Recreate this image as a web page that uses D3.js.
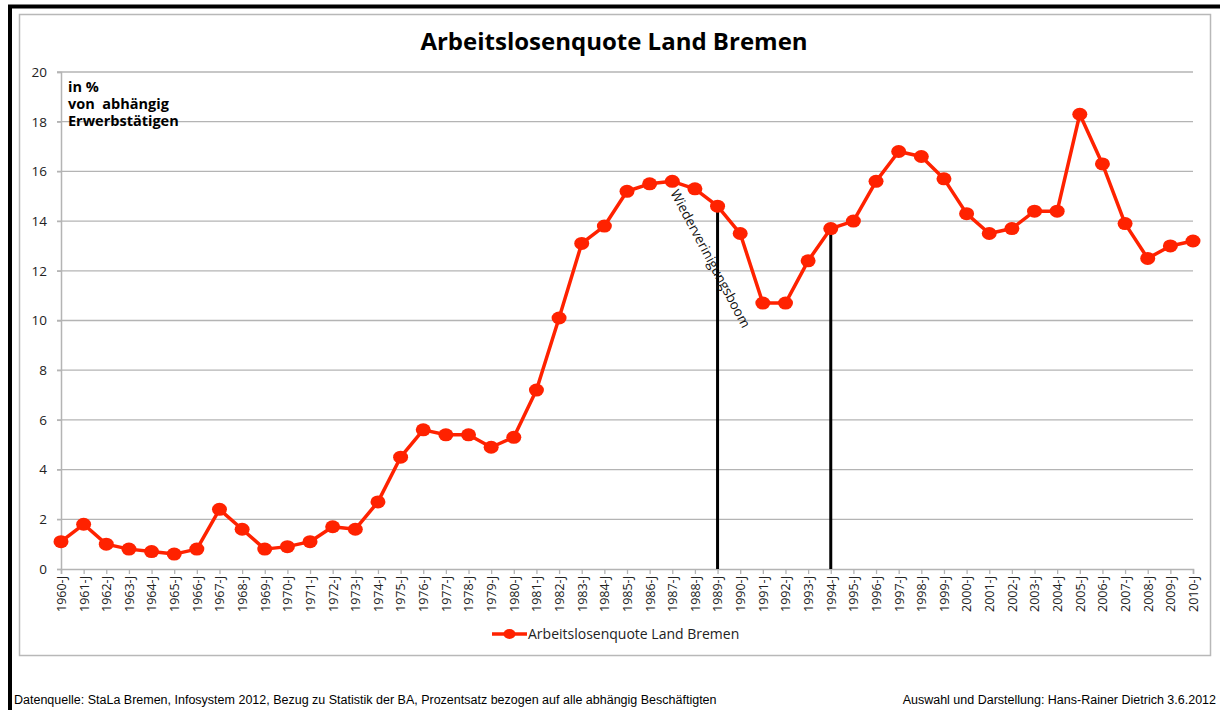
<!DOCTYPE html>
<html>
<head>
<meta charset="utf-8">
<script src="https://cdn.jsdelivr.net/npm/d3@7"></script>
<style>
  body { margin: 0; background: #fff; }
  svg { display: block; }
</style>
</head>
<body>
<div id="chart"></div>
<script>
// Arbeitslosenquote Land Bremen, 1960 - 2010 (Jahresdurchschnitt)
const years = d3.range(1960, 2011);
const tickLabels = years.map(y => y + '-J');
const rates = [
  1.1, 1.8, 1.0, 0.8, 0.7, 0.6, 0.8, 2.4, 1.6, 0.8,
  0.9, 1.1, 1.7, 1.6, 2.7, 4.5, 5.6, 5.4, 5.4, 4.9,
  5.3, 7.2, 10.1, 13.1, 13.8, 15.2, 15.5, 15.6, 15.3, 14.6,
  13.5, 10.7, 10.7, 12.4, 13.7, 14.0, 15.6, 16.8, 16.6, 15.7,
  14.3, 13.5, 13.7, 14.4, 14.4, 18.3, 16.3, 13.9, 12.5, 13.0,
  13.2
];
const yTicks = [0, 2, 4, 6, 8, 10, 12, 14, 16, 18, 20];
const markerYears = [1989, 1994];
const unitLines = ['in %', 'von  abhängig', 'Erwerbstätigen'];

const seriesName = 'Arbeitslosenquote Land Bremen';
const red = '#ff2200';

let svg = d3.select('#chart').append('svg')
  .attr('width', 1220)
  .attr('height', 710);

// outer frame (only top + left visible in the scan)
svg.append('rect')
  .attr('x', 19.5).attr('y', 14.5)
  .attr('width', 1191).attr('height', 641)
  .attr('fill', '#fff')
  .attr('stroke', '#b8b8b8')
  .attr('stroke-width', 1.5);

svg.append('line')
  .attr('x1', 8).attr('x2', 1220)
  .attr('y1', 6.5).attr('y2', 6.5)
  .attr('stroke', '#000').attr('stroke-width', 4);
svg.append('line')
  .attr('x1', 10).attr('x2', 10)
  .attr('y1', 5).attr('y2', 710)
  .attr('stroke', '#000').attr('stroke-width', 4);

let margin = {top: 72, left: 61, right: 1193, bottom: 569};

let x = d3.scaleLinear()
  .domain([1960, 2010])
  .range([margin.left, margin.right]);

let y = d3.scaleLinear()
  .domain([0, 20])
  .range([margin.bottom, margin.top]);

// gridlines
svg.append('g')
  .selectAll('line')
  .data(yTicks.filter(t => t > 0))
  .join('line')
  .attr('x1', margin.left - 4).attr('x2', margin.right)
  .attr('y1', d => y(d)).attr('y2', d => y(d))
  .attr('stroke', '#b4b4b4')
  .attr('stroke-width', 1.3);

// y axis
let yAxis = svg.append('g')
  .attr('transform', `translate(${margin.left},0)`)
  .call(d3.axisLeft(y).tickValues(yTicks).tickSize(4).tickPadding(10));
yAxis.select('.domain').attr('stroke', '#b4b4b4').attr('stroke-width', 1.5);
yAxis.selectAll('.tick line').attr('stroke', '#b4b4b4').attr('stroke-width', 1.3);
yAxis.selectAll('text')
  .attr('font-family', 'Open Sans, sans-serif')
  .attr('font-size', 13.5)
  .attr('fill', '#222');

// x axis
let xAxis = svg.append('g')
  .attr('transform', `translate(0,${margin.bottom})`)
  .call(d3.axisBottom(x).tickValues(years).tickSize(5).tickFormat((d, i) => tickLabels[i]));
xAxis.select('.domain').attr('stroke', '#b4b4b4').attr('stroke-width', 1.5);
xAxis.selectAll('.tick line').attr('stroke', '#b4b4b4').attr('stroke-width', 1.3);
xAxis.selectAll('text')
  .attr('font-family', 'Open Sans, sans-serif')
  .attr('font-size', 12.5)
  .attr('fill', '#222')
  .attr('transform', 'rotate(-90)')
  .attr('text-anchor', 'end')
  .attr('dy', '0.35em')
  .attr('x', -7)
  .attr('y', 0);

// vertical marker lines (Wiedervereinigung)
svg.append('g')
  .selectAll('line')
  .data(markerYears)
  .join('line')
  .attr('x1', d => x(d)).attr('x2', d => x(d))
  .attr('y1', y(0))
  .attr('y2', d => y(rates[years.indexOf(d)]))
  .attr('stroke', '#000')
  .attr('stroke-width', 3);

// series line
let line = d3.line()
  .x((d, i) => x(years[i]))
  .y(d => y(d));

svg.append('path')
  .datum(rates)
  .attr('fill', 'none')
  .attr('stroke', red)
  .attr('stroke-width', 3.5)
  .attr('stroke-linejoin', 'round')
  .attr('d', line);

svg.append('g')
  .selectAll('ellipse')
  .data(rates)
  .join('ellipse')
  .attr('cx', (d, i) => x(years[i]))
  .attr('cy', d => y(d))
  .attr('rx', 7.5)
  .attr('ry', 6.5)
  .attr('fill', red);

// annotation
svg.append('text')
  .attr('transform', 'translate(679,188) rotate(62)')
  .attr('font-family', 'Open Sans, sans-serif')
  .attr('font-size', 13.5)
  .attr('fill', '#111')
  .attr('dy', '0.75em')
  .text('Wiederverinigungsboom');

// title
svg.append('text')
  .attr('x', 614).attr('y', 50)
  .attr('text-anchor', 'middle')
  .attr('font-family', 'Open Sans, sans-serif')
  .attr('font-weight', 'bold')
  .attr('font-size', 24)
  .attr('fill', '#000')
  .text(seriesName);

// unit label
svg.append('g')
  .selectAll('text')
  .data(unitLines)
  .join('text')
  .attr('x', 68)
  .attr('y', (d, i) => 92 + i * 17)
  .attr('font-family', 'Open Sans, sans-serif')
  .attr('font-weight', 'bold')
  .attr('font-size', 14.5)
  .attr('fill', '#000')
  .style('white-space', 'pre')
  .text(d => d);

// legend
let legend = svg.append('g').attr('transform', 'translate(492,634)');
legend.append('line')
  .attr('x1', 0).attr('x2', 35)
  .attr('stroke', red).attr('stroke-width', 3.5);
legend.append('ellipse')
  .attr('cx', 17.5).attr('rx', 6).attr('ry', 5)
  .attr('fill', red);
legend.append('text')
  .attr('x', 36).attr('dy', '0.35em')
  .attr('font-family', 'Open Sans, sans-serif')
  .attr('font-size', 14)
  .attr('fill', '#222')
  .text(seriesName);

// footer
svg.append('text')
  .attr('x', 14).attr('y', 704)
  .attr('font-family', 'Liberation Sans, Arial, sans-serif')
  .attr('font-size', 12.5)
  .attr('fill', '#000')
  .text('Datenquelle: StaLa Bremen, Infosystem 2012, Bezug zu Statistik der BA, Prozentsatz bezogen auf alle abhängig Beschäftigten');

svg.append('text')
  .attr('x', 1216).attr('y', 704)
  .attr('text-anchor', 'end')
  .attr('font-family', 'Liberation Sans, Arial, sans-serif')
  .attr('font-size', 12.5)
  .attr('fill', '#000')
  .text('Auswahl und Darstellung: Hans-Rainer Dietrich 3.6.2012');
</script>
</body>
</html>
